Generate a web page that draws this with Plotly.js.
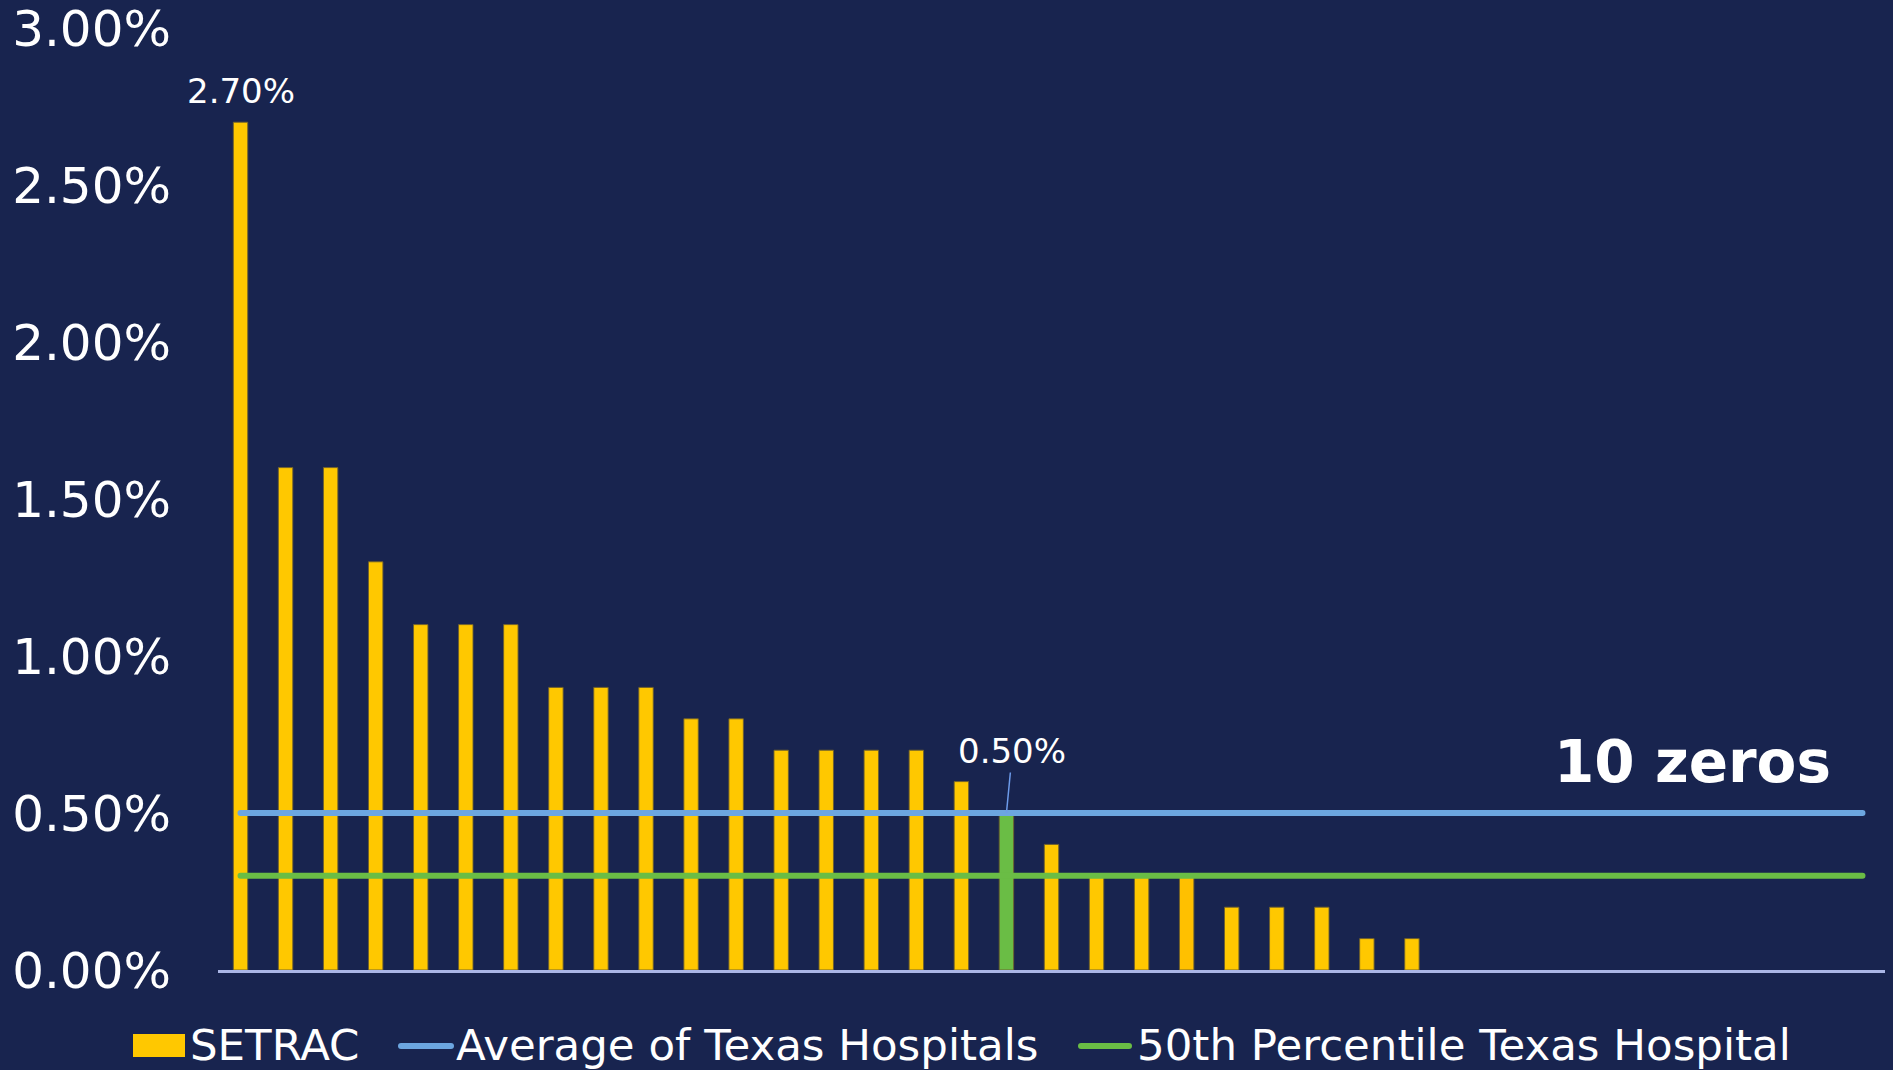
<!DOCTYPE html>
<html>
<head>
<meta charset="utf-8">
<script src="https://cdn.plot.ly/plotly-3.0.1.min.js"></script>
<style>
  html, body { margin: 0; padding: 0; background: #18244f; }
  #chart { width: 1893px; height: 1070px; }
  .scatterlayer .js-line { stroke-linecap: round; }
  .shapelayer path { stroke-linecap: round; }
</style>
</head>
<body>
<div id="chart"></div>
<script>
// Hospital slots (unnamed), SETRAC rates in percent, Texas benchmarks
const hospitals = Array.from({length: 37}, (_, i) => 'H' + (i + 1));
const setrac = [2.7, 1.6, 1.6, 1.3, 1.1, 1.1, 1.1, 0.9, 0.9, 0.9, 0.8, 0.8,
                0.7, 0.7, 0.7, 0.7, 0.6, 0.5, 0.4, 0.3, 0.3, 0.3, 0.2, 0.2,
                0.2, 0.1, 0.1, 0, 0, 0, 0, 0, 0, 0, 0, 0, 0];
const texasAverage = 0.5;
const texasMedian = 0.3;
const zeroCountNote = '10 zeros';
const medianHospitalIndex = 17;
const yTicks = [0, 0.5, 1, 1.5, 2, 2.5, 3];

const FONT = 'DejaVu Sans, Verdana, sans-serif';
const BG = '#18244f';
const YELLOW = '#ffc800';
const GOLD = '#ffc000';
const GREEN = '#6abd45';
const BLUE = '#6ca6e0';

const W = 1893, H = 1070;
const M = {l: 218, r: 8, t: 28, b: 100};
const plotW = W - M.l - M.r, plotH = H - M.t - M.b;
// pixel -> paper helpers for the hand-built legend
const px = v => (v - M.l) / plotW;
const py = v => (H - M.b - v) / plotH;

const pct = v => v.toFixed(2) + '%';

const barColors = setrac.map((v, i) =>
  i === medianHospitalIndex ? GREEN : (i === 21 ? GOLD : YELLOW));
const barEdges = setrac.map(v => (v > 0 ? 1 : 0));

const bars = {
  type: 'bar', x: hospitals, y: setrac, name: 'SETRAC',
  marker: {color: barColors, line: {color: 'rgba(110,95,45,0.9)', width: barEdges}},
  hoverinfo: 'x+y', showlegend: false
};
const avgLine = {
  type: 'scatter', mode: 'lines', x: hospitals,
  y: hospitals.map(() => texasAverage), name: 'Average of Texas Hospitals',
  line: {color: BLUE, width: 6}, showlegend: false
};
const medLine = {
  type: 'scatter', mode: 'lines', x: hospitals,
  y: hospitals.map(() => texasMedian), name: '50th Percentile Texas Hospital',
  line: {color: GREEN, width: 6}, showlegend: false
};

const legendY = 1045;
const legendFont = {family: FONT, size: 43.5, color: '#ffffff'};
const legendText = (x, text) => ({
  xref: 'paper', yref: 'paper', x: px(x), y: py(legendY), text: text,
  xanchor: 'left', yanchor: 'middle', showarrow: false, font: legendFont
});

const layout = {
  width: W, height: H,
  margin: M,
  paper_bgcolor: BG, plot_bgcolor: BG,
  bargap: 0.68,
  showlegend: false,
  font: {family: FONT, color: '#ffffff'},
  xaxis: {
    type: 'category', range: [-0.5, hospitals.length - 0.5],
    showticklabels: false, showgrid: false, zeroline: false,
    showline: true, linecolor: '#aab6e6', linewidth: 2.5, ticks: ''
  },
  yaxis: {
    range: [0, 3], tickvals: yTicks, ticktext: yTicks.map(pct),
    showgrid: false, zeroline: false, showline: false, ticks: '',
    ticklabelstandoff: 46, ticklabeloverflow: 'allow',
    tickfont: {family: FONT, size: 50, color: '#ffffff'}
  },
  annotations: [
    {x: hospitals[0], y: setrac[0], text: pct(setrac[0]), showarrow: false,
     yanchor: 'middle', yshift: 31, font: {family: FONT, size: 34, color: '#ffffff'}},
    {x: hospitals[medianHospitalIndex], y: texasAverage, text: pct(texasAverage),
     showarrow: true, arrowhead: 0, arrowwidth: 1.5, arrowcolor: '#6d9bea',
     ax: 6, ay: -62, standoff: 0, font: {family: FONT, size: 34, color: '#ffffff'}},
    {xref: 'paper', yref: 'paper', x: px(1692), y: py(762), text: '<b>' + zeroCountNote + '</b>',
     showarrow: false, xanchor: 'center', yanchor: 'middle',
     font: {family: FONT, size: 58, color: '#ffffff'}},
    legendText(188, 'SETRAC'),
    legendText(454, 'Average of Texas Hospitals'),
    legendText(1135, '50th Percentile Texas Hospital')
  ],
  shapes: [
    {type: 'rect', xref: 'paper', yref: 'paper', x0: px(133), x1: px(185),
     y0: py(1034), y1: py(1057), fillcolor: YELLOW, line: {width: 0}},
    {type: 'line', xref: 'paper', yref: 'paper', x0: px(401), x1: px(451),
     y0: py(1046), y1: py(1046), line: {color: BLUE, width: 6}},
    {type: 'line', xref: 'paper', yref: 'paper', x0: px(1081), x1: px(1129),
     y0: py(1046), y1: py(1046), line: {color: GREEN, width: 6}}
  ]
};

Plotly.newPlot('chart', [bars, avgLine, medLine], layout, {displayModeBar: false, staticPlot: true});
</script>
</body>
</html>
